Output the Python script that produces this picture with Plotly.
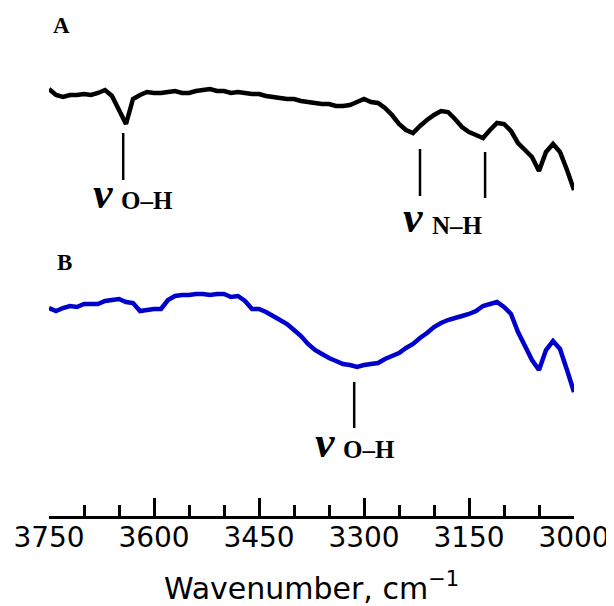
import plotly.graph_objects as go

# Wavenumber grid (cm^-1), 10 cm^-1 sampling from 3750 down to 3000
wavenumber = list(range(3750, 2999, -10))

# Spectrum A (transmittance, arbitrary units, offset)
spec_A = [4.27, 4.21, 4.19, 4.21, 4.21, 4.22, 4.21, 4.23, 4.26, 4.20,
          4.06, 3.92, 4.17, 4.21, 4.24, 4.23, 4.23, 4.24, 4.25, 4.23,
          4.23, 4.25, 4.26, 4.27, 4.25, 4.25, 4.23, 4.24, 4.23, 4.22,
          4.22, 4.20, 4.19, 4.18, 4.17, 4.17, 4.15, 4.14, 4.13, 4.12,
          4.12, 4.10, 4.10, 4.11, 4.14, 4.17, 4.14, 4.13, 4.08, 4.01,
          3.92, 3.86, 3.83, 3.90, 3.96, 4.01, 4.05, 4.04, 3.97, 3.89,
          3.84, 3.81, 3.78, 3.86, 3.93, 3.92, 3.85, 3.73, 3.66, 3.59,
          3.45, 3.64, 3.72, 3.64, 3.46, 3.26]

# Spectrum B (transmittance, arbitrary units, offset)
spec_B = [2.08, 2.05, 2.08, 2.10, 2.09, 2.12, 2.12, 2.12, 2.15, 2.16,
          2.17, 2.14, 2.13, 2.05, 2.06, 2.07, 2.07, 2.16, 2.20, 2.21,
          2.21, 2.22, 2.22, 2.21, 2.22, 2.22, 2.19, 2.20, 2.15, 2.07,
          2.07, 2.04, 2.00, 1.96, 1.92, 1.86, 1.80, 1.72, 1.66, 1.62,
          1.58, 1.55, 1.52, 1.51, 1.49, 1.51, 1.52, 1.53, 1.57, 1.60,
          1.63, 1.68, 1.72, 1.78, 1.83, 1.89, 1.93, 1.96, 1.98, 2.00,
          2.02, 2.05, 2.10, 2.12, 2.14, 2.09, 2.02, 1.84, 1.70, 1.56,
          1.46, 1.66, 1.75, 1.67, 1.46, 1.24]

# Band markers (wavenumbers, cm^-1)
marks_A_OH = [3644]
marks_A_NH = [3220, 3127]
marks_B_OH = [3314]

fig = go.Figure()
fig.add_trace(go.Scatter(x=wavenumber, y=spec_A, mode="lines",
                         line=dict(color="black", width=4.5, simplify=False),
                         showlegend=False))
fig.add_trace(go.Scatter(x=wavenumber, y=spec_B, mode="lines",
                         line=dict(color="#0000CD", width=4.5, simplify=False),
                         showlegend=False))

shapes = []
def vline(x, y0, y1):
    shapes.append(dict(type="line", xref="x", yref="y", x0=x, x1=x, y0=y0, y1=y1,
                       line=dict(color="black", width=2.5)))

for w in marks_A_OH:
    vline(w, 3.83, 3.36)
vline(marks_A_NH[0], 3.67, 3.20)
vline(marks_A_NH[1], 3.64, 3.18)
for w in marks_B_OH:
    vline(w, 1.34, 0.88)

serif = "Liberation Serif"
anns = []
def nu_label(xnu, ynu, xsub, ysub, sub):
    anns.append(dict(x=xnu, y=ynu, xref="x", yref="y", text="<b><i>ν</i></b>",
                     showarrow=False, xanchor="left", yanchor="middle",
                     font=dict(family=serif, size=44, color="black")))
    anns.append(dict(x=xsub, y=ysub, xref="x", yref="y", text="<b>" + sub + "</b>",
                     showarrow=False, xanchor="left", yanchor="middle",
                     font=dict(family=serif, size=25, color="black")))

nu_label(3690, 3.23, 3650, 3.16, "O–H")
nu_label(3247, 2.99, 3206, 2.91, "N–H")
nu_label(3373, 0.74, 3333, 0.67, "O–H")

anns.append(dict(x=3747, y=4.91, xref="x", yref="y", text="<b>A</b>", showarrow=False,
                 xanchor="left", yanchor="middle",
                 font=dict(family=serif, size=23, color="black")))
anns.append(dict(x=3742, y=2.54, xref="x", yref="y", text="<b>B</b>", showarrow=False,
                 xanchor="left", yanchor="middle",
                 font=dict(family=serif, size=23, color="black")))

# The page body adds an 8px offset, so margins are reduced accordingly
fig.update_layout(
    width=606, height=598,
    margin=dict(l=41, r=40, t=8, b=90),
    paper_bgcolor="white", plot_bgcolor="white",
    shapes=shapes, annotations=anns,
    xaxis=dict(
        range=[3750, 3000], showgrid=False, zeroline=False, automargin=False,
        showline=True, linecolor="black", linewidth=3,
        ticks="inside", ticklen=18, tickwidth=3, tickcolor="black",
        tick0=3000, dtick=150, ticklabelstandoff=-6,
        minor=dict(dtick=50, tick0=3000, ticks="inside", ticklen=11,
                   tickwidth=3, tickcolor="black", showgrid=False),
        tickfont=dict(family="DejaVu Sans", size=28, color="black"),
        title=dict(text="Wavenumber, cm<sup>−1</sup>", standoff=27,
                   font=dict(family="DejaVu Sans", size=30, color="black")),
    ),
    yaxis=dict(range=[0, 5], visible=False, automargin=False),
)

fig.write_html("out.html")
